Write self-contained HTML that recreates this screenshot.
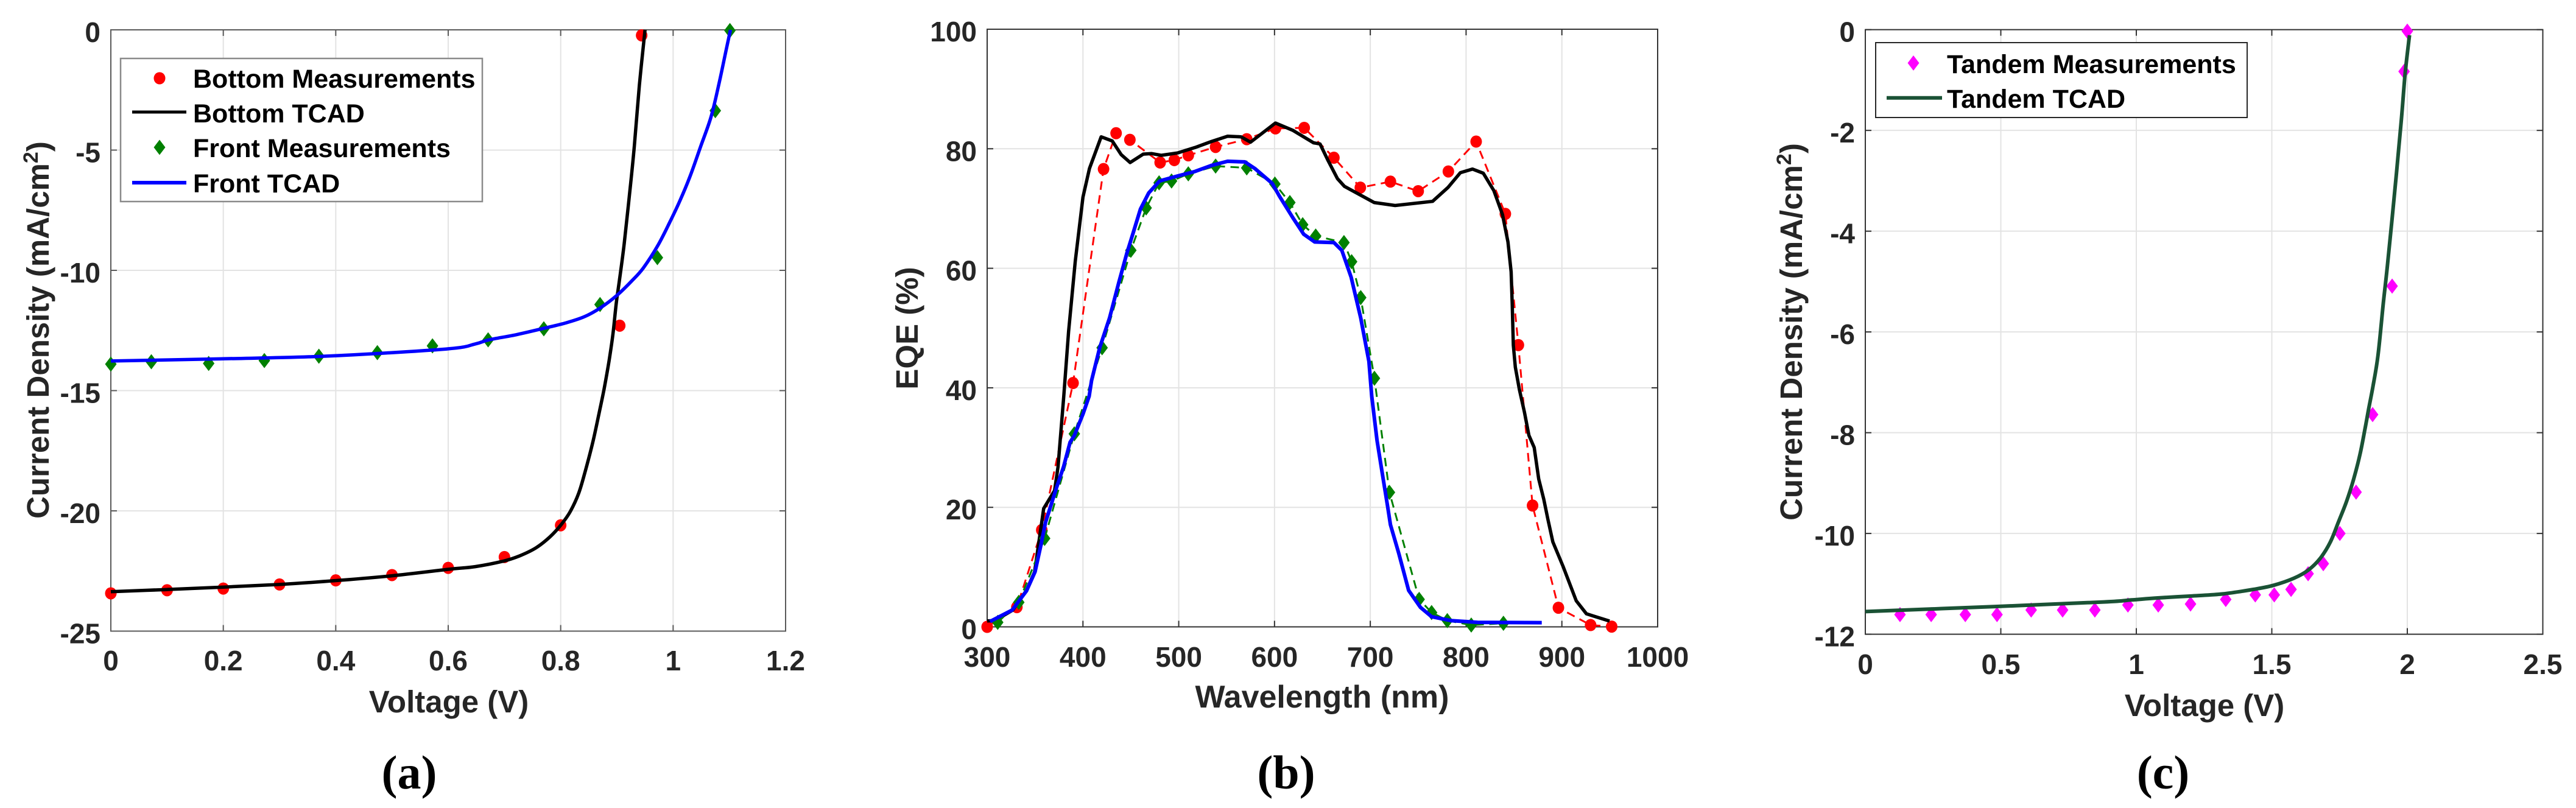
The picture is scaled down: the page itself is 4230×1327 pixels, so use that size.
<!DOCTYPE html>
<html lang="en">
<head>
<meta charset="utf-8">
<title>Current density and EQE charts</title>
<style>
html,body{margin:0;padding:0;background:#fff;width:4230px;height:1327px;overflow:hidden}
svg{display:block}
text{font-family:"Liberation Sans",sans-serif;font-weight:bold;fill:#262626}
.tick{font-size:46px}
.ax{font-size:51px}
.leg{font-size:43px;fill:#000}
.cap{font-family:"Liberation Serif",serif;font-size:78px;fill:#000}
</style>
</head>
<body>
<svg id="fig" xmlns="http://www.w3.org/2000/svg" width="4230" height="1327" viewBox="0 0 4230 1327">
  <g id="panel-a"></g>
  <g id="panel-b"></g>
  <g id="panel-c"></g>

  <text class="ax" transform="translate(80,542) rotate(-90)" text-anchor="middle">Current Density (mA/cm<tspan dy="-18" font-size="34">2</tspan><tspan dy="18">)</tspan></text>
  <text class="ax" x="737" y="1170" text-anchor="middle">Voltage (V)</text>
  <text class="cap" x="672" y="1295" text-anchor="middle">(a)</text>

  <text class="ax" transform="translate(1507,539) rotate(-90)" text-anchor="middle">EQE (%)</text>
  <text class="ax" x="2171" y="1162" text-anchor="middle" style="font-size:52px">Wavelength (nm)</text>
  <text class="cap" x="2112" y="1295" text-anchor="middle">(b)</text>

  <text class="ax" transform="translate(2959,545) rotate(-90)" text-anchor="middle">Current Density (mA/cm<tspan dy="-18" font-size="34">2</tspan><tspan dy="18">)</tspan></text>
  <text class="ax" x="3620" y="1176" text-anchor="middle">Voltage (V)</text>
  <text class="cap" x="3552" y="1295" text-anchor="middle">(c)</text>
</svg>

<script>
// Panel (a) data
const aXTicks = [0, 0.2, 0.4, 0.6, 0.8, 1, 1.2];
const aYTicks = [0, -5, -10, -15, -20, -25];
const aBottomMeasV = [0, 0.1, 0.2, 0.3, 0.4, 0.5, 0.6, 0.7, 0.8, 0.905, 0.944];
const aBottomMeasJ = [-23.43, -23.3, -23.23, -23.06, -22.89, -22.67, -22.37, -21.92, -20.6, -12.3, -0.23];
const aFrontMeasV = [0, 0.072, 0.174, 0.273, 0.37, 0.474, 0.572, 0.671, 0.77, 0.87, 0.972, 1.075, 1.101];
const aFrontMeasJ = [-13.9, -13.8, -13.87, -13.75, -13.57, -13.42, -13.14, -12.89, -12.43, -11.42, -9.47, -3.36, -0.03];
const aBottomTcadV = [0, 0.1, 0.2, 0.3, 0.4, 0.5, 0.6, 0.648, 0.698, 0.727, 0.756, 0.781, 0.801, 0.817, 0.832, 0.844, 0.857, 0.868, 0.877, 0.886, 0.893, 0.899, 0.905, 0.913, 0.922, 0.931, 0.94, 0.95];
const aBottomTcadJ = [-23.36, -23.27, -23.17, -23.06, -22.9, -22.7, -22.43, -22.32, -22.09, -21.87, -21.54, -21.08, -20.57, -20.03, -19.27, -18.33, -17.16, -15.97, -14.96, -13.77, -12.65, -11.34, -10.33, -8.89, -6.94, -4.84, -2.3, 0];
const aFrontTcadV = [0, 0.193, 0.38, 0.596, 0.648, 0.672, 0.72, 0.77, 0.81, 0.843, 0.872, 0.9, 0.926, 0.947, 0.973, 0.994, 1.012, 1.03, 1.048, 1.067, 1.081, 1.094, 1.102];
const aFrontTcadJ = [-13.77, -13.68, -13.57, -13.27, -13.06, -12.89, -12.68, -12.41, -12.18, -11.92, -11.54, -11.04, -10.45, -9.9, -8.96, -8.0, -7.11, -6.1, -4.91, -3.65, -2.3, -0.87, 0];

// Panel (b) data
const bXTicks = [300, 400, 500, 600, 700, 800, 900, 1000];
const bYTicks = [0, 20, 40, 60, 80, 100];
const bBottomMeasW = [300, 331, 357, 389.7, 421.5, 434.6, 449, 480.6, 495.4, 510, 538.5, 571, 601, 631, 662, 689.6, 721, 750, 781.5, 810.5, 841, 854.6, 869.4, 896.4, 930, 952];
const bBottomMeasE = [0, 3.3, 16.2, 40.8, 76.6, 82.6, 81.5, 77.7, 78.1, 78.9, 80.3, 81.6, 83.4, 83.5, 78.5, 73.5, 74.5, 72.9, 76.2, 81.2, 69.1, 47.15, 20.3, 3.2, 0.3, 0.04];
const bFrontMeasW = [311, 333, 360, 391, 420, 450, 466, 479.5, 492.5, 510, 538.5, 571, 600.4, 616, 629.4, 643, 672.5, 680.5, 690, 704.3, 720, 751, 764, 780.4, 805.4, 839];
const bFrontMeasE = [0.75, 4.1, 14.8, 32.3, 46.7, 63, 70.1, 74.3, 74.6, 75.8, 77.1, 76.8, 74.1, 71, 67.3, 65.4, 64.3, 61.1, 55.1, 41.6, 22.5, 4.6, 2.4, 1.05, 0.3, 0.6];
const bBottomTcadW = [300, 308, 326.7, 341, 349.5, 359, 370.4, 374, 380, 385, 392, 400, 406.8, 419, 430.6, 440, 449.3, 463, 471.5, 481.7, 498.7, 517, 534, 551, 565, 575, 601, 619, 640.7, 647.5, 656, 665.7, 673, 704, 725.9, 765, 781, 794, 806.7, 818, 829, 838, 843.7, 847, 848.2, 849.3, 851.4, 855.7, 860.9, 865.6, 871.1, 875.8, 881.1, 885.4, 890.6, 901.2, 915, 925.6, 933, 949.8];
const bBottomTcadE = [1, 1.05, 2.8, 6.1, 9.2, 19.8, 22.8, 26.8, 38.6, 49.4, 61.2, 71.9, 76.7, 82, 81.3, 79, 77.7, 79.1, 79.2, 78.9, 79.3, 80.2, 81.2, 82.1, 82, 81.1, 84.3, 83.1, 81, 80.8, 78, 75, 73.7, 71, 70.5, 71.2, 73.5, 76, 76.6, 75.9, 73, 69, 64.4, 59.4, 53.95, 47.15, 43.45, 39.68, 35.94, 32.04, 30, 24.74, 21.35, 17.98, 14.21, 10.14, 4.36, 2.19, 1.81, 0.97];
const bFrontTcadW = [303, 326, 341, 350, 356, 361, 372.4, 379.8, 386.6, 391, 400, 406.5, 409, 417.5, 427.8, 437.4, 446, 453, 460, 468.7, 480, 498, 517, 534, 551, 569, 579.4, 597.6, 605, 619, 630.5, 642, 662, 670.3, 680, 690, 698.6, 701.5, 707, 712.7, 718, 721, 729.7, 740, 752.4, 764, 784, 812, 879];
const bFrontTcadE = [0.9, 2.8, 6, 9.2, 13.6, 17.5, 23.3, 26.8, 30.9, 32, 35.6, 38.6, 41.2, 46.7, 51.7, 57.6, 62.6, 66.2, 69.9, 72.6, 74.6, 75.4, 76.2, 77.2, 77.9, 77.8, 76.7, 74.2, 72.1, 68.5, 65.7, 64.4, 64.3, 63, 58.5, 51.7, 44.4, 38.6, 31.2, 25.5, 20.2, 17.1, 12.3, 6.1, 3.25, 1.7, 1.05, 0.75, 0.7];

// Panel (c) data
const cXTicks = [0, 0.5, 1, 1.5, 2, 2.5];
const cYTicks = [0, -2, -4, -6, -8, -10, -12];
const cTandemMeasV = [0.128, 0.243, 0.369, 0.486, 0.612, 0.728, 0.847, 0.969, 1.081, 1.2, 1.33, 1.439, 1.509, 1.571, 1.634, 1.69, 1.751, 1.811, 1.872, 1.944, 1.988, 2.0];
const cTandemMeasJ = [-11.61, -11.61, -11.61, -11.61, -11.52, -11.52, -11.52, -11.42, -11.42, -11.4, -11.31, -11.22, -11.22, -11.11, -10.8, -10.6, -10.0, -9.18, -7.64, -5.09, -0.83, -0.03];
const cTandemTcadV = [0, 0.48, 0.88, 0.982, 1.079, 1.207, 1.319, 1.432, 1.506, 1.581, 1.634, 1.679, 1.716, 1.746, 1.776, 1.802, 1.825, 1.843, 1.858, 1.874, 1.892, 1.911, 1.926, 1.954, 1.978, 1.992, 2.008];
const cTandemTcadJ = [-11.55, -11.45, -11.36, -11.32, -11.28, -11.24, -11.2, -11.11, -11.03, -10.89, -10.73, -10.49, -10.17, -9.77, -9.36, -8.92, -8.44, -7.95, -7.51, -7.06, -6.46, -5.45, -4.71, -3.19, -1.79, -0.87, -0.11];

const NS = 'http://www.w3.org/2000/svg';

function make(parent, tag, attrs) {
  const el = document.createElementNS(NS, tag);
  for (const k in attrs) el.setAttribute(k, attrs[k]);
  parent.appendChild(el);
  return el;
}

function scale(d0, d1, p0, p1) {
  return function (v) { return p0 + (v - d0) * (p1 - p0) / (d1 - d0); };
}

function drawAxes(g, box, xTicks, yTicks, sx, sy, xLabelY) {
  xTicks.forEach(function (t) {
    const x = sx(t);
    if (x > box.l + 1 && x < box.r - 1) {
      const gl = make(g, 'line', { x1: x, x2: x, y1: box.t, y2: box.b, stroke: '#e3e3e3', 'stroke-width': 2 });
      
      
    }
  });
  yTicks.forEach(function (t) {
    const y = sy(t);
    if (y > box.t + 1 && y < box.b - 1) {
      const gl = make(g, 'line', { x1: box.l, x2: box.r, y1: y, y2: y, stroke: '#e3e3e3', 'stroke-width': 2 });
      
      
    }
  });
  const frame = make(g, 'rect', { x: box.l, y: box.t, width: box.r - box.l, height: box.b - box.t, fill: 'none', stroke: box.color, 'stroke-width': 2 });
  
  
  xTicks.forEach(function (t) {
    const x = sx(t);
    const m1 = make(g, 'line', { x1: x, x2: x, y1: box.b, y2: box.b - 10, stroke: box.color, 'stroke-width': 2 });
    
    
    const m2 = make(g, 'line', { x1: x, x2: x, y1: box.t, y2: box.t + 10, stroke: box.color, 'stroke-width': 2 });
    
    
    const lab = make(g, 'text', { x: x, y: xLabelY, 'text-anchor': 'middle', class: 'tick' });
    lab.textContent = String(t);
    
    
  });
  yTicks.forEach(function (t) {
    const y = sy(t);
    const m1 = make(g, 'line', { x1: box.l, x2: box.l + 10, y1: y, y2: y, stroke: box.color, 'stroke-width': 2 });
    
    
    const m2 = make(g, 'line', { x1: box.r, x2: box.r - 10, y1: y, y2: y, stroke: box.color, 'stroke-width': 2 });
    
    
    const lab = make(g, 'text', { x: box.l - 17, y: y + 20, 'text-anchor': 'end', class: 'tick' });
    lab.textContent = String(t);
    
    
  });
}

// Polyline through the data values, rounded with a Catmull-Rom spline when smooth is set.
function pathFrom(xs, ys, sx, sy, smooth) {
  const pts = xs.map(function (v, i) { return [sx(v), sy(ys[i])]; });
  let d = 'M' + pts[0][0].toFixed(1) + ' ' + pts[0][1].toFixed(1);
  for (let i = 1; i < pts.length; i++) {
    if (smooth) {
      const p0 = pts[Math.max(i - 2, 0)], p1 = pts[i - 1], p2 = pts[i], p3 = pts[Math.min(i + 1, pts.length - 1)];
      const c1x = p1[0] + (p2[0] - p0[0]) / 6, c1y = p1[1] + (p2[1] - p0[1]) / 6;
      const c2x = p2[0] - (p3[0] - p1[0]) / 6, c2y = p2[1] - (p3[1] - p1[1]) / 6;
      d += ' C' + c1x.toFixed(1) + ' ' + c1y.toFixed(1) + ' ' + c2x.toFixed(1) + ' ' + c2y.toFixed(1) + ' ' + p2[0].toFixed(1) + ' ' + p2[1].toFixed(1);
    } else {
      d += ' L' + pts[i][0].toFixed(1) + ' ' + pts[i][1].toFixed(1);
    }
  }
  return d;
}

function drawLine(g, xs, ys, sx, sy, color, width, dash, smooth) {
  const attrs = { d: pathFrom(xs, ys, sx, sy, smooth), fill: 'none', stroke: color, 'stroke-width': width, 'stroke-linejoin': 'round' };
  if (dash) attrs['stroke-dasharray'] = dash;
  return make(g, 'path', attrs);
}

function drawCircle(g, x, y, color) {
  return make(g, 'ellipse', { cx: x, cy: y, rx: 9.5, ry: 10, fill: color });
}

function drawDiamond(g, x, y, color) {
  const hw = 9.5, hh = 12.5;
  return make(g, 'polygon', { points: x + ',' + (y - hh) + ' ' + (x + hw) + ',' + y + ' ' + x + ',' + (y + hh) + ' ' + (x - hw) + ',' + y, fill: color });
}

function legendText(g, x, y, str) {
  return Object.assign(make(g, 'text', { x: x, y: y, class: 'leg' }), { textContent: str });
}

/* ---------- Panel (a) ---------- */
(function () {
  const g = document.getElementById('panel-a');
  const box = { l: 182, r: 1290, t: 49, b: 1036.5, color: '#5a5a5a' };
  const sx = scale(0, 1.2, box.l, box.r);
  const sy = scale(0, -25, box.t, box.b);
  drawAxes(g, box, aXTicks, aYTicks, sx, sy, 1101);

  aBottomMeasV.forEach(function (v, i) {
    const m = drawCircle(g, sx(v), sy(aBottomMeasJ[i]), '#ff0000');
    
    
  });
  const bl = drawLine(g, aBottomTcadV, aBottomTcadJ, sx, sy, '#000000', 5.5, null, true);
  
  
  aFrontMeasV.forEach(function (v, i) {
    const m = drawDiamond(g, sx(v), sy(aFrontMeasJ[i]), '#008000');
    
    
  });
  const fl = drawLine(g, aFrontTcadV, aFrontTcadJ, sx, sy, '#0000ff', 5.5, null, true);
  
  

  const leg = make(g, 'g', {});
  
  
  const bg = make(leg, 'rect', { x: 198, y: 96, width: 594, height: 235, fill: '#fff', stroke: '#8a8a8a', 'stroke-width': 2.5 });
  
  
  const k1 = drawCircle(leg, 262, 128.5, '#ff0000');
  
  
  const t1 = legendText(leg, 317, 144, 'Bottom Measurements');
  
  
  const k2 = make(leg, 'line', { x1: 217, x2: 306, y1: 184, y2: 184, stroke: '#000', 'stroke-width': 5 });
  
  
  const t2 = legendText(leg, 317, 201, 'Bottom TCAD');
  
  
  const k3 = drawDiamond(leg, 262, 242, '#008000');
  
  
  const t3 = legendText(leg, 317, 258, 'Front Measurements');
  
  
  const k4 = make(leg, 'line', { x1: 217, x2: 306, y1: 300, y2: 300, stroke: '#0000ff', 'stroke-width': 6 });
  
  
  const t4 = legendText(leg, 317, 316, 'Front TCAD');
  
  
})();

/* ---------- Panel (b) ---------- */
(function () {
  const g = document.getElementById('panel-b');
  const box = { l: 1621, r: 2722, t: 48, b: 1029.5, color: '#333333' };
  const sx = scale(300, 1000, box.l, box.r);
  const sy = scale(0, 100, box.b, box.t);
  drawAxes(g, box, bXTicks, bYTicks, sx, sy, 1095);

  const rd = drawLine(g, bBottomMeasW, bBottomMeasE, sx, sy, '#ff0000', 3, '14 9');
  
  
  bBottomMeasW.forEach(function (v, i) {
    const m = drawCircle(g, sx(v), sy(bBottomMeasE[i]), '#ff0000');
    
    
  });
  const bl = drawLine(g, bBottomTcadW, bBottomTcadE, sx, sy, '#000000', 5.5);
  
  
  const gd = drawLine(g, bFrontMeasW, bFrontMeasE, sx, sy, '#008000', 3, '14 9');
  
  
  bFrontMeasW.forEach(function (v, i) {
    const m = drawDiamond(g, sx(v), sy(bFrontMeasE[i]), '#008000');
    
    
  });
  const fl = drawLine(g, bFrontTcadW, bFrontTcadE, sx, sy, '#0000ff', 6);
  
  
})();

/* ---------- Panel (c) ---------- */
(function () {
  const g = document.getElementById('panel-c');
  const box = { l: 3063, r: 4175.5, t: 48.7, b: 1041.6, color: '#333333' };
  const sx = scale(0, 2.5, box.l, box.r);
  const sy = scale(0, -12, box.t, box.b);
  drawAxes(g, box, cXTicks, cYTicks, sx, sy, 1107);

  cTandemMeasV.forEach(function (v, i) {
    const m = drawDiamond(g, sx(v), sy(cTandemMeasJ[i]), '#ff00ff');
    
    
  });
  const tl = drawLine(g, cTandemTcadV, cTandemTcadJ, sx, sy, '#1a5235', 6, null, true);
  
  

  const leg = make(g, 'g', {});
  
  
  const bg = make(leg, 'rect', { x: 3080, y: 70, width: 610, height: 123, fill: '#fff', stroke: '#262626', 'stroke-width': 2 });
  
  
  const k1 = drawDiamond(leg, 3142, 103.5, '#ff00ff');
  
  
  const t1 = legendText(leg, 3197, 120, 'Tandem Measurements');
  
  
  const k2 = make(leg, 'line', { x1: 3098, x2: 3189, y1: 160.7, y2: 160.7, stroke: '#1a5235', 'stroke-width': 6 });
  
  
  const t2 = legendText(leg, 3197, 177, 'Tandem TCAD');
  
  
})();
</script>
</body>
</html>
